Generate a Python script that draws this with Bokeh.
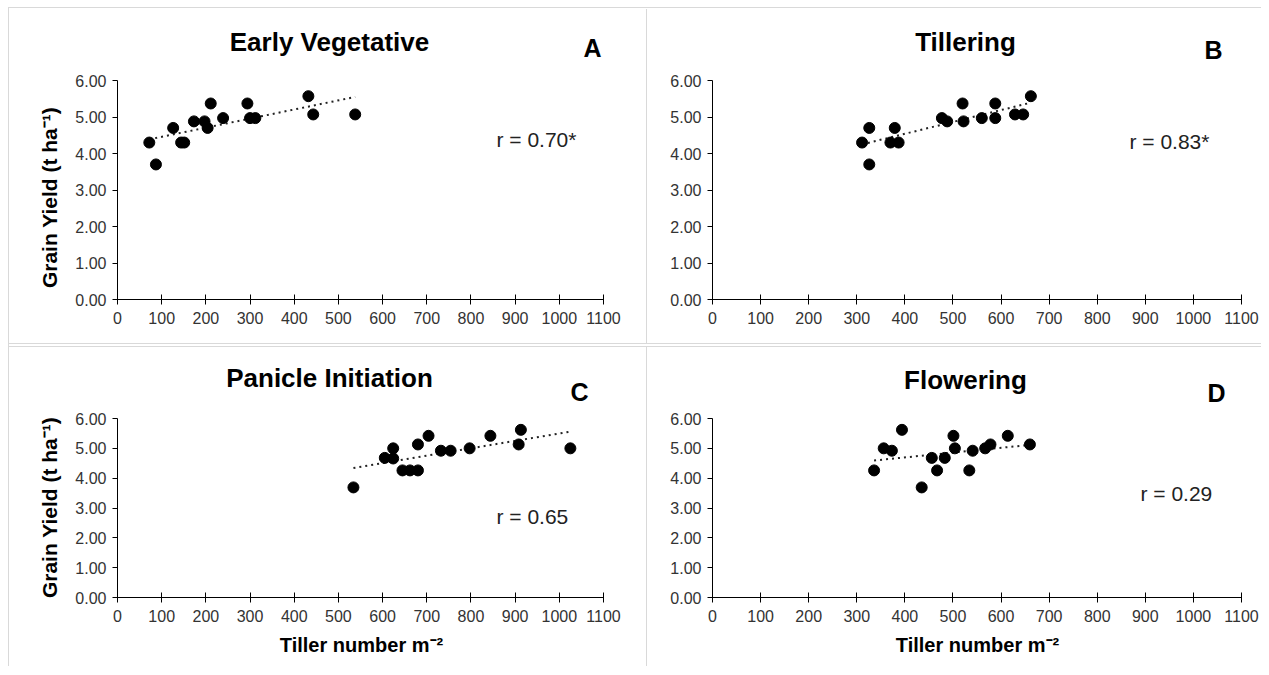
import numpy as np
from bokeh.plotting import figure
from bokeh.models import Range1d, FixedTicker, NumeralTickFormatter, Label, Spacer
from bokeh.layouts import row, column
from bokeh.embed import file_html
from bokeh.resources import INLINE

# ---------------- data ----------------
x_ticks = [0, 100, 200, 300, 400, 500, 600, 700, 800, 900, 1000, 1100]
y_ticks = [0, 1, 2, 3, 4, 5, 6]

# A: Early Vegetative
tiller_early = [72, 87, 126, 144, 151, 173, 197, 204, 211, 239, 294, 300, 312, 432, 443, 538]
yield_early = [4.30, 3.70, 4.70, 4.30, 4.30, 4.88, 4.88, 4.70, 5.37, 4.97, 5.37, 4.97, 4.97, 5.57, 5.07, 5.07]
# B: Tillering
tiller_till = [311, 326, 326, 370, 379, 387, 477, 488, 520, 522, 560, 588, 588, 629, 646, 662]
yield_till = [4.30, 4.70, 3.70, 4.30, 4.70, 4.30, 4.97, 4.88, 5.37, 4.88, 4.97, 5.37, 4.97, 5.07, 5.07, 5.57]
# C: Panicle Initiation
tiller_pi = [534, 605, 624, 624, 645, 662, 680, 680, 704, 732, 754, 797, 844, 908, 913, 1025]
yield_pi = [3.69, 4.68, 5.00, 4.66, 4.26, 4.26, 4.26, 5.13, 5.42, 4.92, 4.92, 5.00, 5.42, 5.13, 5.62, 5.00]
# D: Flowering
tiller_fl = [336, 356, 373, 394, 435, 456, 467, 483, 501, 504, 534, 541, 567, 578, 614, 660]
yield_fl = [4.26, 5.00, 4.92, 5.62, 3.69, 4.68, 4.26, 4.68, 5.42, 5.00, 4.26, 4.92, 5.00, 5.13, 5.42, 5.13]

titles = ["Early Vegetative", "Tillering", "Panicle Initiation", "Flowering"]
letters = ["A", "B", "C", "D"]
r_texts = ["r = 0.70*", "r = 0.83*", "r = 0.65", "r = 0.29"]
y_title = "Grain Yield (t ha\u207b\u00b9)"
x_title = "Tiller number m\u207b\u00b2"

FONT = "Liberation Sans"
SEP = "#d9d9d9"
X_MAX = 1100
Y_MAX = 6


def make_panel(xs, ys, fig_w, fig_h, ax_l, ax_r, ax_t, ax_b,
               title, tpos, letter, lpos, rtext, rpos, ylab_pos=None, xlab_pos=None):
    """ax_* : pixel box of the axes (0..1100 x 0..6) inside the figure.
    *pos : pixel positions (inside the figure) of the texts."""
    sx = X_MAX / (ax_r - ax_l)
    sy = Y_MAX / (ax_b - ax_t)
    x0 = -ax_l * sx
    x1 = X_MAX + (fig_w - ax_r) * sx
    y1 = Y_MAX + ax_t * sy
    y0 = -(fig_h - ax_b) * sy

    def dx(px):
        return x0 + px * sx

    def dy(py):
        return y1 - py * sy

    p = figure(width=fig_w, height=fig_h, output_backend="svg", toolbar_location=None,
               x_range=Range1d(x0, x1), y_range=Range1d(y0, y1), min_border=0)
    p.outline_line_color = None
    p.xgrid.grid_line_color = None
    p.ygrid.grid_line_color = None
    p.background_fill_color = "white"
    p.border_fill_color = "white"

    xa = p.xaxis[0]
    xa.fixed_location = 0
    xa.bounds = (0, X_MAX)
    xa.ticker = FixedTicker(ticks=x_ticks)
    xa.major_tick_in = 5
    xa.major_tick_out = 5
    xa.minor_tick_in = 0
    xa.minor_tick_out = 0
    xa.axis_line_color = "black"
    xa.major_tick_line_color = "black"
    xa.major_label_text_font = FONT
    xa.major_label_text_font_size = "16px"
    xa.major_label_text_color = "#333333"
    xa.major_label_standoff = 7

    ya = p.yaxis[0]
    ya.fixed_location = 0
    ya.bounds = (0, Y_MAX)
    ya.ticker = FixedTicker(ticks=y_ticks)
    ya.formatter = NumeralTickFormatter(format="0.00")
    ya.major_tick_in = 0
    ya.major_tick_out = 5
    ya.minor_tick_in = 0
    ya.minor_tick_out = 0
    ya.axis_line_color = "black"
    ya.major_tick_line_color = "black"
    ya.major_label_text_font = FONT
    ya.major_label_text_font_size = "16px"
    ya.major_label_text_color = "#333333"
    ya.major_label_standoff = 6

    # linear trend line (least squares from the data)
    xa_arr = np.array(xs, dtype=float)
    ya_arr = np.array(ys, dtype=float)
    k, b = np.polyfit(xa_arr, ya_arr, 1)
    lx = [xa_arr.min(), xa_arr.max()]
    ly = [k * v + b for v in lx]
    p.line(lx, ly, line_color="#222222", line_width=2, line_dash="2 4")

    p.scatter(xs, ys, size=11, fill_color="black", line_color="black")

    p.add_layout(Label(x=dx(tpos[0]), y=dy(tpos[1]), text=title, text_font=FONT,
                       text_font_size="26px", text_font_style="bold",
                       text_align="center", text_baseline="middle", text_color="black"))
    p.add_layout(Label(x=dx(lpos[0]), y=dy(lpos[1]), text=letter, text_font=FONT,
                       text_font_size="25px", text_font_style="bold",
                       text_align="center", text_baseline="middle", text_color="black"))
    p.add_layout(Label(x=dx(rpos[0]), y=dy(rpos[1]), text=rtext, text_font=FONT,
                       text_font_size="21px", text_align="left",
                       text_baseline="middle", text_color="#222222"))
    if ylab_pos is not None:
        p.add_layout(Label(x=dx(ylab_pos[0]), y=dy(ylab_pos[1]), text=y_title, text_font=FONT,
                           text_font_size="21px", text_font_style="bold", angle=np.pi / 2,
                           text_align="center", text_baseline="middle", text_color="black"))
    if xlab_pos is not None:
        p.add_layout(Label(x=dx(xlab_pos[0]), y=dy(xlab_pos[1]), text=x_title, text_font=FONT,
                           text_font_size="20px", text_font_style="bold",
                           text_align="center", text_baseline="middle", text_color="black"))
    return p


pA = make_panel(tiller_early, yield_early, 637, 334, 108, 594, 71, 290,
                titles[0], (320, 32), letters[0], (583, 38), r_texts[0], (487, 130),
                ylab_pos=(40, 188))
pB = make_panel(tiller_till, yield_till, 614, 334, 65, 594, 71, 290,
                titles[1], (318, 32), letters[1], (566, 40), r_texts[1], (482, 132))
pC = make_panel(tiller_pi, yield_pi, 637, 319, 108, 594, 71, 250,
                titles[2], (320, 30), letters[2], (570, 44), r_texts[2], (487, 169),
                ylab_pos=(40, 160), xlab_pos=(352, 297))
pD = make_panel(tiller_fl, yield_fl, 614, 319, 65, 594, 71, 250,
                titles[3], (318, 32), letters[3], (569, 45), r_texts[3], (493, 146),
                xlab_pos=(330, 297))

vline1 = Spacer(width=1, height=334, styles={"background-color": SEP})
vline2 = Spacer(width=1, height=319, styles={"background-color": SEP})
hline1 = Spacer(width=1252, height=1, styles={"background-color": SEP})
hline2 = Spacer(width=1252, height=1, styles={"background-color": SEP})
topline = Spacer(width=1252, height=1, styles={"background-color": SEP})
leftline = Spacer(width=1, height=659, styles={"background-color": SEP})

layout = column(
    Spacer(width=1260, height=7),
    row(
        Spacer(width=8, height=659),
        leftline,
        column(
            topline,
            Spacer(width=1252, height=1),
            row(pA, vline1, pB),
            hline1,
            Spacer(width=1252, height=2),
            hline2,
            row(pC, vline2, pD),
        ),
    ),
)

open("out.html", "w").write(file_html(layout, INLINE))
